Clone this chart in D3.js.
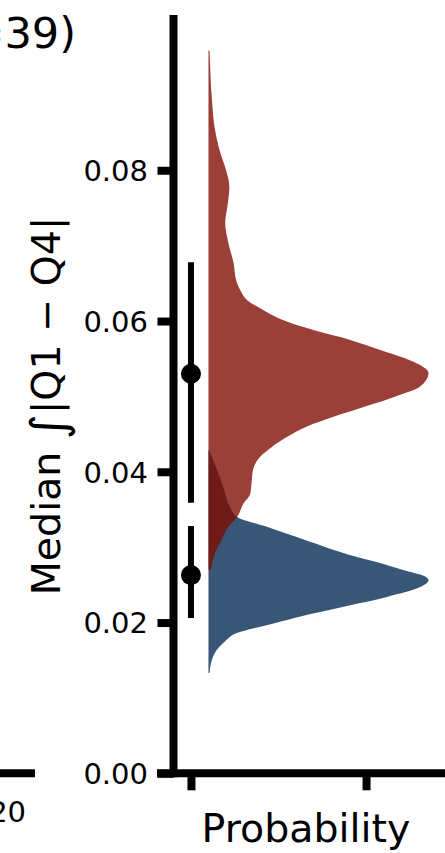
<!DOCTYPE html>
<html>
<head>
<meta charset="utf-8">
<script src="https://cdn.jsdelivr.net/npm/d3@7"></script>
<style>
  body { margin: 0; background: #fff; }
  svg { display: block; font-family: "DejaVu Sans", sans-serif; }
</style>
</head>
<body>
<svg id="chart" width="445" height="853"></svg>
<script>
// values
const yTicks = [0, 0.02, 0.04, 0.06, 0.08];
const xTicks = [0, 1];
const groups = ['high', 'low'];
const medians = [0.0530, 0.0263];
const ciLow = [0.0359, 0.0206];
const ciHigh = [0.0678, 0.0328];

// red density (value on y, width relative to its peak)
const redValues = [0.0959, 0.0897, 0.0853, 0.0827, 0.0800, 0.0778, 0.0756, 0.0730, 0.0703, 0.0677,
  0.0654, 0.0637, 0.0628, 0.0617, 0.0601, 0.0588, 0.0575, 0.0561, 0.0546, 0.0531, 0.0513, 0.0499,
  0.0486, 0.0473, 0.0460, 0.0446, 0.0433, 0.0420, 0.0402, 0.0389, 0.0371, 0.0358, 0.0340, 0.0327,
  0.0309, 0.0292, 0.0270];
const redDensity = [0.005, 0.015, 0.030, 0.050, 0.080, 0.095, 0.088, 0.076, 0.091, 0.114,
  0.126, 0.152, 0.175, 0.235, 0.341, 0.477, 0.644, 0.788, 0.932, 1.000, 0.962, 0.841,
  0.705, 0.568, 0.447, 0.356, 0.288, 0.235, 0.202, 0.197, 0.190, 0.159, 0.130, 0.090,
  0.058, 0.030, 0.011];

// blue density
const blueValues = [0.0429, 0.0398, 0.0376, 0.0353, 0.0340, 0.0327, 0.0314, 0.0301, 0.0287, 0.0279,
  0.0270, 0.0261, 0.0256, 0.0247, 0.0234, 0.0221, 0.0208, 0.0199, 0.0186, 0.0175, 0.0164,
  0.0150, 0.0133];
const blueDensity = [0.002, 0.045, 0.071, 0.099, 0.130, 0.265, 0.394, 0.523, 0.675, 0.780,
  0.880, 0.985, 1.000, 0.962, 0.811, 0.614, 0.417, 0.300, 0.129, 0.075, 0.038,
  0.015, 0.005];

const svg = d3.select('#chart');
const font = '"DejaVu Sans", sans-serif';

const y = d3.scaleLinear().domain([0, 0.1006]).range([773.3, 15]);
const x = d3.scaleLinear().domain([-0.194, 1.451]).range([157, 445]);
const vBase = 0.1, vWidth = 1.257;

const area = d3.area()
    .curve(d3.curveMonotoneY)
    .y(d => y(d[0]))
    .x0(x(vBase))
    .x1(d => x(vBase + d[1] * vWidth));

// half violins, blue under red
svg.append('path')
    .attr('d', area(d3.zip(blueValues, blueDensity)))
    .attr('fill', '#00264f').attr('fill-opacity', 0.78);
svg.append('path')
    .attr('d', area(d3.zip(redValues, redDensity)))
    .attr('fill', '#7f0a00').attr('fill-opacity', 0.78);

// point estimates with intervals
groups.forEach((g, i) => {
    svg.append('line')
        .attr('x1', x(0)).attr('x2', x(0))
        .attr('y1', y(ciLow[i])).attr('y2', y(ciHigh[i]))
        .attr('stroke', '#000').attr('stroke-width', 6);
    svg.append('circle')
        .attr('cx', x(0)).attr('cy', y(medians[i])).attr('r', 10)
        .attr('fill', '#000');
});

// axes
const yAxis = svg.append('g')
    .attr('transform', 'translate(173.5,0)')
    .call(d3.axisLeft(y).tickValues(yTicks).tickSize(16).tickPadding(9.5)
        .tickFormat(d3.format('.2f')));
yAxis.select('.domain').remove();
yAxis.selectAll('line').attr('stroke', '#000').attr('stroke-width', 8);
yAxis.selectAll('text').attr('font-size', 29).attr('font-family', font)
    .attr('fill', '#000').attr('dy', '0.36em');

const xAxis = svg.append('g')
    .attr('transform', 'translate(0,773.3)')
    .call(d3.axisBottom(x).tickValues(xTicks).tickSize(17).tickFormat(''));
xAxis.select('.domain').remove();
xAxis.selectAll('line').attr('stroke', '#000').attr('stroke-width', 8);

// spines
svg.append('line')
    .attr('x1', 173.5).attr('x2', 173.5).attr('y1', y.range()[1]).attr('y2', 777.3)
    .attr('stroke', '#000').attr('stroke-width', 8);
svg.append('line')
    .attr('x1', 157).attr('x2', 450).attr('y1', 773.3).attr('y2', 773.3)
    .attr('stroke', '#000').attr('stroke-width', 8);

// labels
svg.append('text')
    .attr('x', 306).attr('y', 842)
    .attr('text-anchor', 'middle').attr('font-size', 39.5)
    .text('Probability');

const ylab = svg.append('text')
    .attr('transform', 'translate(60,406) rotate(-90)')
    .attr('text-anchor', 'middle').attr('font-size', 39.5);
ylab.append('tspan').text('Median ');
ylab.append('tspan').attr('font-size', 48).attr('dy', 5).text('∫');
ylab.append('tspan').attr('dy', -5).text('|Q1 − Q4|');

// neighbouring panel, cut off at the left edge
svg.append('text')
    .attr('x', 76).attr('y', 48)
    .attr('text-anchor', 'end').attr('font-size', 43)
    .text('=39)');
svg.append('line')
    .attr('x1', -5).attr('x2', 35).attr('y1', 773.3).attr('y2', 773.3)
    .attr('stroke', '#000').attr('stroke-width', 8);
svg.append('text')
    .attr('x', 7.6).attr('y', 821.7)
    .attr('text-anchor', 'middle').attr('font-size', 29)
    .text('20');
</script>
</body>
</html>
